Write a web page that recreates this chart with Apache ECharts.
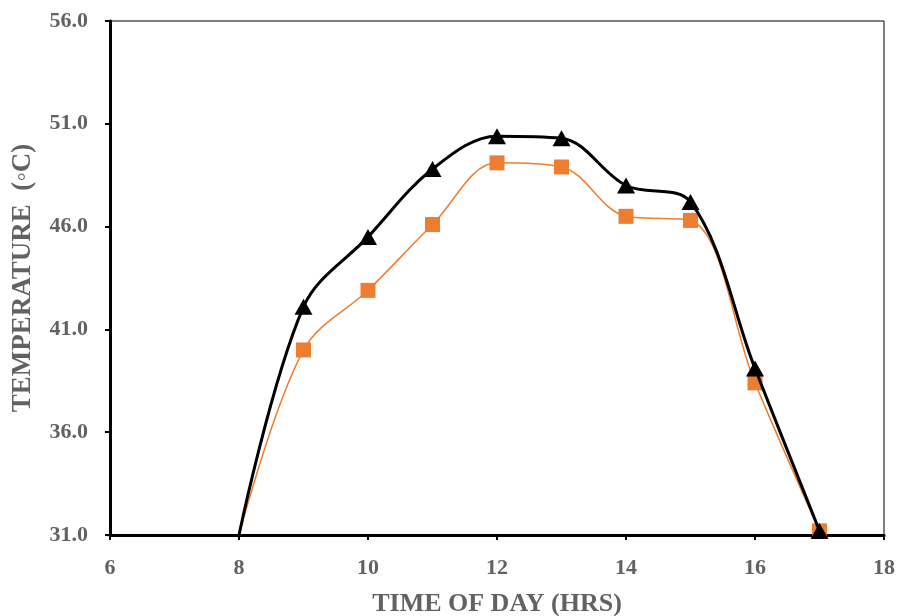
<!DOCTYPE html>
<html><head><meta charset="utf-8">
<script src="https://cdn.jsdelivr.net/npm/echarts@6/dist/echarts.min.js"></script>
<style>html,body{margin:0;padding:0;background:#fff}#c{width:898px;height:616px}</style>
</head><body><div id="c"></div>
<script>
const hours = [8, 9, 10, 11, 12, 13, 14, 15, 16, 17];
const blackSeries = [31.0, 42.1, 45.5, 48.8, 50.4, 50.3, 48.0, 47.2, 39.1, 31.2];
const orangeSeries = [31.0, 40.0, 42.9, 46.1, 49.1, 48.9, 46.5, 46.3, 38.4, 31.2];
const yTicks = [31, 36, 41, 46, 51, 56];
const xTicks = [6, 8, 10, 12, 14, 16, 18];

function pts(vals, hideFirst) {
  return hours.map((h, i) => {
    const p = { value: [h, vals[i]] };
    if (hideFirst && i === 0) p.symbol = 'none';
    return p;
  });
}
const labelFont = { fontFamily: 'Liberation Serif', fontWeight: 'bold', fontSize: 22, color: '#626262' };
const chart = echarts.init(document.getElementById('c'));
chart.setOption({
  animation: false,
  grid: { left: 110, right: 14, top: 21, bottom: 81, show: true, borderColor: '#000', borderWidth: 1,
          containLabel: false, outerBoundsMode: 'none' },
  xAxis: {
    type: 'value', min: xTicks[0], max: xTicks[xTicks.length - 1], interval: 2,
    axisLine: { show: true, onZero: false, lineStyle: { color: '#000', width: 3 } },
    axisTick: { show: true, length: 5, lineStyle: { color: '#000', width: 2 } },
    splitLine: { show: false },
    axisLabel: Object.assign({ margin: 22 }, labelFont),
    name: 'TIME OF DAY (HRS)', nameLocation: 'middle', nameGap: 56,
    nameTextStyle: Object.assign({}, labelFont, { fontSize: 26 })
  },
  yAxis: {
    type: 'value', min: yTicks[0], max: yTicks[yTicks.length - 1], interval: 5,
    axisLine: { show: true, onZero: false, lineStyle: { color: '#000', width: 3 } },
    axisTick: { show: true, length: 5, lineStyle: { color: '#000', width: 2 } },
    splitLine: { show: false },
    axisLabel: Object.assign({ margin: 22, formatter: v => v.toFixed(1) }, labelFont),
    name: 'TEMPERATURE  (\u25E6C)', nameLocation: 'middle', nameGap: 73, nameRotate: 90,
    nameTextStyle: Object.assign({}, labelFont, { fontSize: 27 })
  },
  series: [
    {
      type: 'line', data: pts(orangeSeries, true), smooth: 0.35,
      symbol: 'rect', symbolSize: 15,
      lineStyle: { color: '#ED7D31', width: 1.5 },
      itemStyle: { color: '#ED7D31' }, z: 2
    },
    {
      type: 'line', data: pts(blackSeries, true), smooth: 0.35,
      symbol: 'triangle', symbolSize: [18, 16],
      lineStyle: { color: '#000', width: 3 },
      itemStyle: { color: '#000' }, z: 3
    }
  ]
});
</script></body></html>
